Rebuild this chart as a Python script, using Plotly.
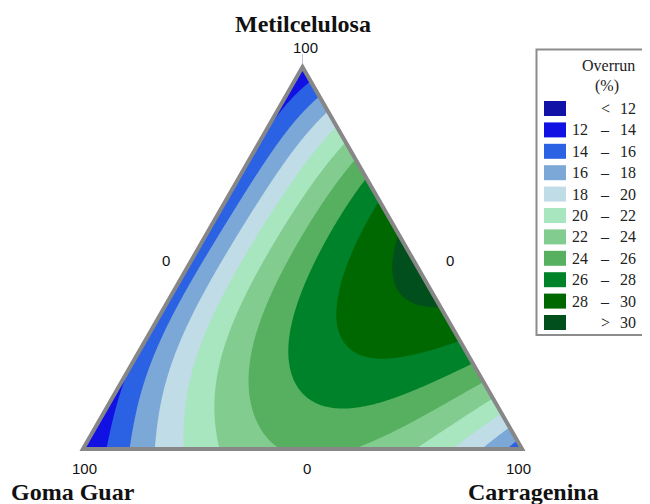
import numpy as np
import plotly.graph_objects as go

# ---------------- data ----------------
# contour levels (Overrun, %) and legend
levels = [12, 14, 16, 18, 20, 22, 24, 26, 28, 30]
legend_lo = ["", "12", "14", "16", "18", "20", "22", "24", "26", "28", ""]
legend_sep = ["<", "–", "–", "–", "–", "–", "–", "–", "–", "–", ">"]
legend_hi = ["12", "14", "16", "18", "20", "22", "24", "26", "28", "30", "30"]
band_colors = ["#1212a6", "#1111e3", "#2a62e3", "#7ca8d8", "#c0dce6",
               "#a8e6c0", "#82cc8f", "#56b060", "#00822a", "#006800", "#004f1c"]

components = ["Metilcelulosa", "Goma Guar", "Carragenina"]

# Points read on the band boundaries of the picture:
# fraction of Metilcelulosa (M), fraction of Carragenina (C), overrun level
vertex_M = [1.0, 0.0, 0.0]
vertex_C = [0.0, 0.0, 1.0]
vertex_V = [12.8, 12.8, 15]

left_M = [0.253, 0.80, 0.5, 0.9, 0.12, 0.2]
left_C = [0.0, 0.0, 0.0, 0.0, 0.0, 0.0]
left_V = [14, 14, 15, 13.3, 13.3, 13.6]

right_M = [0.945, 0.916, 0.885, 0.854, 0.789, 0.747, 0.702, 0.663, 0.572, 0.48,
           0.384, 0.290, 0.225, 0.172, 0.133, 0.089, 0.057, 0.031]
right_V = [14, 16, 18, 20, 22, 24, 26, 28, 30, 30.8,
           30, 28, 26, 24, 22, 20, 18, 16]

bottom_C = [0.066, 0.114, 0.169, 0.232, 0.30, 0.38, 0.585, 0.768, 0.852, 0.904, 0.957]
bottom_V = [14, 16, 18, 20, 22, 24, 24, 22, 20, 18, 16]

inner_M = [0.859, 0.859, 0.859, 0.9, 0.13, 0.2,
           0.755, 0.755, 0.755, 0.755,
           0.676, 0.676, 0.676, 0.676, 0.676, 0.676,
           0.572, 0.572,
           0.499, 0.499, 0.499, 0.499, 0.499, 0.499, 0.499, 0.499,
           0.441, 0.441, 0.407, 0.386,
           0.337, 0.337, 0.337, 0.337, 0.337, 0.337, 0.337,
           0.303, 0.2585, 0.253, 0.227,
           0.206, 0.206, 0.206, 0.206, 0.206, 0.206, 0.206,
           0.136, 0.099, 0.115, 0.162,
           0.102, 0.102, 0.102, 0.102, 0.102,
           0.115, 0.063, 0.0235, 0.063, 0.044]
inner_C = [0.012, 0.042, 0.08, 0.028, 0.03, 0.012,
           0.033, 0.067, 0.113, 0.170,
           0.046, 0.084, 0.130, 0.183, 0.228, 0.270,
           0.295, 0.334,
           0.035, 0.0785, 0.12, 0.188, 0.236, 0.290, 0.352, 0.454,
           0.358, 0.49, 0.519, 0.559,
           0.025, 0.057, 0.098, 0.166, 0.235, 0.303, 0.406,
           0.427, 0.479, 0.652, 0.586,
           0.043, 0.079, 0.141, 0.209, 0.284, 0.375, 0.756,
           0.433, 0.52, 0.612, 0.693,
           0.079, 0.124, 0.186, 0.25, 0.334,
           0.756, 0.668, 0.585, 0.816, 0.878]
inner_V = [14, 16, 18, 14, 14, 14,
           16, 18, 20, 22,
           16, 18, 20, 22, 24, 26,
           26, 28,
           16, 18, 20, 22, 24, 26, 28, 30,
           28, 30, 30, 30,
           16, 18, 20, 22, 24, 26, 28,
           28, 28, 28, 28,
           16, 18, 20, 22, 24, 26, 26,
           26, 26, 26, 26,
           16, 18, 20, 22, 24,
           24, 24, 24, 22, 20]

# ---------------- response surface through the read points ----------------
M = np.array(vertex_M + left_M + right_M + [0.0] * len(bottom_C) + inner_M, float)
C = np.array(vertex_C + left_C + [1 - m for m in right_M] + bottom_C + inner_C, float)
V = np.array(vertex_V + left_V + right_V + bottom_V + inner_V, float)

DEG = 5


def basis(m, c):
    return np.stack([m ** i * c ** j for i in range(DEG + 1) for j in range(DEG + 1 - i)], axis=-1)


A = basis(M, C)
coef = np.linalg.solve(A.T @ A + 1e-5 * np.eye(A.shape[1]), A.T @ V)

h = np.sqrt(3) / 2
gx = np.linspace(-0.03, 1.03, 425)
gy = np.linspace(-0.03, h + 0.03, 370)
X, Y = np.meshgrid(gx, gy)
Mg = Y / h
Cg = X - Mg / 2
Z = basis(Mg, Cg) @ coef

# stepped colour scale: band k centred at fraction k/10
cs = []
for k, col in enumerate(band_colors):
    lo = max(0.0, (k - 0.5) / 10)
    hi = min(1.0, (k + 0.5) / 10)
    cs.append([lo, col])
    cs.append([hi, col])

fig = go.Figure()
fig.add_trace(go.Contour(
    x=gx, y=gy, z=Z, autocontour=False,
    contours=dict(start=levels[0], end=levels[-1], size=2, coloring="fill", showlines=False),
    colorscale=cs, showscale=False, line=dict(width=0), hoverinfo="skip"))

# masks outside the triangle
shapes = []
e = 0.2
shapes.append(dict(type="path", xref="x", yref="y", layer="above", line=dict(width=0), fillcolor="white",
                   path=f"M{-e},{-e} L0,0 L0.5,{h} L0.5,{h+e} L{-e},{h+e} Z"))
shapes.append(dict(type="path", xref="x", yref="y", layer="above", line=dict(width=0), fillcolor="white",
                   path=f"M{1+e},{-e} L1,0 L0.5,{h} L0.5,{h+e} L{1+e},{h+e} Z"))
shapes.append(dict(type="rect", xref="x", yref="y", layer="above", line=dict(width=0), fillcolor="white",
                   x0=-e, x1=1 + e, y0=-e, y1=0))
shapes.append(dict(type="path", xref="x", yref="y", layer="above", line=dict(color="#878787", width=4),
                   fillcolor="rgba(0,0,0,0)", path=f"M0,0 L1,0 L0.5,{h} Z"))

# ---------------- layout in pixels (page body has an 8px offset) ----------------
OFF = 8
L, R, T, B = 53, 106, 37, 33
W, H = 642, 496
PW, PH = W - L - R, H - T - B


def px(x):
    return (x - OFF - L) / PW


def py(y):
    return (H - B - (y - OFF)) / PH


# legend box
shapes.append(dict(type="rect", xref="paper", yref="paper", layer="above",
                   x0=px(536.5), x1=px(665), y0=py(335), y1=py(49.5),
                   line=dict(color="#8c8c8c", width=2), fillcolor="white"))
ann = []
serif = "Liberation Serif"
ann.append(dict(x=px(608), y=py(65), text="Overrun", font=dict(family=serif, size=16, color="#222")))
ann.append(dict(x=px(607), y=py(86), text="(%)", font=dict(family=serif, size=16, color="#222")))
for i, col in enumerate(band_colors):
    yc = 108.5 + 21.4 * i
    shapes.append(dict(type="rect", xref="paper", yref="paper", layer="above",
                       x0=px(544), x1=px(566), y0=py(yc + 7.5), y1=py(yc - 7.5),
                       line=dict(width=0), fillcolor=col))
    if legend_lo[i]:
        ann.append(dict(x=px(580), y=py(yc), text=legend_lo[i], font=dict(family=serif, size=16, color="#222")))
    ann.append(dict(x=px(605), y=py(yc), text=legend_sep[i], font=dict(family=serif, size=16, color="#222")))
    ann.append(dict(x=px(628), y=py(yc), text=legend_hi[i], font=dict(family=serif, size=16, color="#222")))

sans = "Liberation Sans"
for x, y, t in [(305, 48, "100"), (166, 260, "0"), (450, 260, "0"),
                (84, 468, "100"), (307, 468, "0"), (518, 468, "100")]:
    ann.append(dict(x=px(x), y=py(y), text=t, font=dict(family=sans, size=15, color="#111")))

for x, y, t in [(303, 24, components[0]), (73, 492, components[1]), (533, 492, components[2])]:
    ann.append(dict(x=px(x), y=py(y), text=f"<b>{t}</b>", font=dict(family=serif, size=24, color="#111")))

for a in ann:
    a.update(xref="paper", yref="paper", xanchor="center", yanchor="middle", showarrow=False)

fig.update_layout(
    width=W, height=H, margin=dict(l=L, r=R, t=T, b=B),
    paper_bgcolor="white", plot_bgcolor="white",
    xaxis=dict(range=[-0.05, 1.05], visible=False, fixedrange=True),
    yaxis=dict(range=[-0.05, h + 0.05], visible=False, fixedrange=True),
    shapes=shapes, annotations=ann, showlegend=False)

fig.write_html("out.html")
